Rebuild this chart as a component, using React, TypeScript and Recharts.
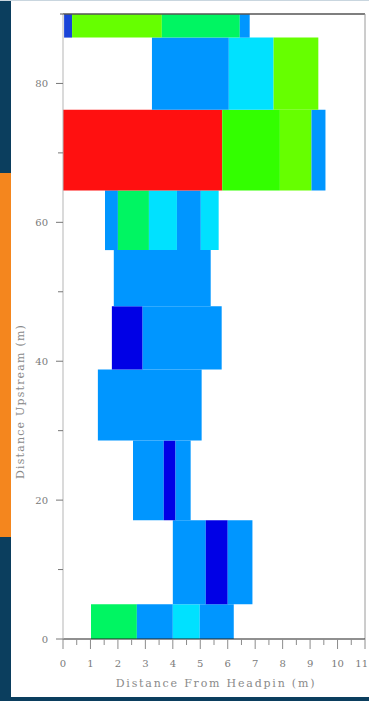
import React from 'react';
import { ComposedChart, XAxis, YAxis, ReferenceArea, ReferenceLine, Label } from 'recharts';

// Colour classes used by the cells
const C_DARK = '#0000e6';
const C_BLUE = '#0096ff';
const C_CYAN = '#00e1ff';
const C_SPRING = '#00f562';
const C_GREEN = '#33ff00';
const C_LIME = '#66ff00';
const C_RED = '#ff1010';
const C_MID = '#1a44d8';

// Row bands (Distance Upstream, m)
const rowLow = [0, 5, 17.1, 28.6, 38.8, 47.9, 56, 64.6, 76.2, 86.6];
const rowHigh = [5, 17.1, 28.6, 38.8, 47.9, 56, 64.6, 76.2, 86.6, 90];

// Cell edges along Distance From Headpin (m) for each row
const rowEdges: number[][] = [
  [1.02, 2.69, 4.0, 4.98, 6.22],
  [4.0, 5.2, 6.0, 6.9],
  [2.55, 3.67, 4.1, 4.65],
  [1.27, 5.05],
  [1.78, 2.9, 5.78],
  [1.85, 5.38],
  [1.53, 2.0, 3.13, 4.15, 5.02, 5.67],
  [0, 5.8, 7.9, 9.05, 9.56],
  [3.24, 6.04, 7.67, 9.3],
  [0.04, 0.33, 3.6, 6.44, 6.8],
];

// Cell colours for each row
const rowColors: string[][] = [
  [C_SPRING, C_BLUE, C_CYAN, C_BLUE],
  [C_BLUE, C_DARK, C_BLUE],
  [C_BLUE, C_DARK, C_BLUE],
  [C_BLUE],
  [C_DARK, C_BLUE],
  [C_BLUE],
  [C_BLUE, C_SPRING, C_CYAN, C_BLUE, C_CYAN],
  [C_RED, C_GREEN, C_LIME, C_BLUE],
  [C_BLUE, C_CYAN, C_LIME],
  [C_MID, C_LIME, C_SPRING, C_BLUE],
];

const xTicks = [0, 0.5, 1, 1.5, 2, 2.5, 3, 3.5, 4, 4.5, 5, 5.5, 6, 6.5, 7, 7.5, 8, 8.5, 9, 9.5, 10, 10.5, 11];
const yTicks = [0, 10, 20, 30, 40, 50, 60, 70, 80, 90];
const yLabelled = [0, 20, 40, 60, 80];

const FONT = '"DejaVu Serif", "Liberation Serif", serif';

const XTick = (props: any) => {
  const { x, y, payload } = props;
  const v = payload.value as number;
  const major = Math.abs(v - Math.round(v)) < 1e-6;
  const last = v === 11;
  return (
    <g>
      <line x1={x} x2={x} y1={y} y2={y + (major ? 10 : 6)} stroke="#8c8c8c" strokeWidth={1} />
      {major && (
        <text
          x={last ? x + 3 : x}
          y={y + 28}
          textAnchor={last ? 'end' : 'middle'}
          fontSize={10}
          fill="#7a7a7a"
          fontFamily={FONT}
        >
          {v}
        </text>
      )}
    </g>
  );
};

const YTick = (props: any) => {
  const { x, y, payload } = props;
  const v = payload.value as number;
  const labelled = yLabelled.includes(v);
  const len = v === 90 ? 3 : labelled ? 7 : 5;
  return (
    <g>
      <line x1={x - len} x2={x} y1={y} y2={y} stroke={v === 90 ? '#555' : '#777'} strokeWidth={1} />
      {labelled && (
        <text x={x - 15} y={y} dy={3.5} textAnchor="end" fontSize={10} fill="#7a7a7a" fontFamily={FONT}>
          {v}
        </text>
      )}
    </g>
  );
};

const YTitle = (props: any) => {
  const vb = props.viewBox || {};
  const cx = vb.x - 3;
  const cy = vb.y + vb.height * 0.62;
  return (
    <text
      x={cx}
      y={cy}
      transform={`rotate(-90, ${cx}, ${cy})`}
      textAnchor="middle"
      dominantBaseline="central"
      fontSize={11}
      letterSpacing={1.2}
      fill="#8a8a8a"
      fontFamily={FONT}
    >
      Distance Upstream (m)
    </text>
  );
};

const XTitle = (props: any) => {
  const vb = props.viewBox || {};
  const cx = vb.x + vb.width / 2 + 2;
  const cy = vb.y + 48;
  return (
    <text x={cx} y={cy} textAnchor="middle" fontSize={11} letterSpacing={1.8} fill="#8a8a8a" fontFamily={FONT}>
      Distance From Headpin (m)
    </text>
  );
};

export default function App() {
  const cells: React.ReactNode[] = [];
  rowEdges.forEach((edges, r) => {
    for (let i = 0; i < edges.length - 1; i++) {
      cells.push(
        <ReferenceArea
          key={`c-${r}-${i}`}
          x1={edges[i]}
          x2={edges[i + 1]}
          y1={rowLow[r]}
          y2={rowHigh[r]}
          fill={rowColors[r][i]}
          fillOpacity={1}
          stroke="none"
          ifOverflow="extendDomain"
        />
      );
    }
  });

  return (
    <div style={{ position: 'absolute', left: 0, top: 0, width: 369, height: 701, background: '#ffffff', overflow: 'hidden' }}>
      <div style={{ position: 'absolute', left: 0, top: 0, width: 11, height: 701, background: '#0b3e5e' }} />
      <div style={{ position: 'absolute', left: 0, top: 173, width: 11, height: 364, background: '#f4861e' }} />
      <div style={{ position: 'absolute', left: 0, top: 697, width: 369, height: 4, background: '#0b3e5e' }} />
      <div style={{ position: 'absolute', left: 0, top: 0, width: 369, height: 1, background: '#c9d6df' }} />
      <div style={{ position: 'absolute', left: 0, top: 0 }}>
        <ComposedChart width={369} height={701} margin={{ top: 14, right: 4, bottom: 12, left: 23 }}>
          <XAxis
            type="number"
            dataKey="x"
            domain={[0, 11]}
            ticks={xTicks}
            interval={0}
            tickSize={0}
            tickMargin={0}
            tickLine={false}
            tick={<XTick />}
            axisLine={{ stroke: '#222', strokeWidth: 1.2 }}
            height={50}
            allowDataOverflow
          >
            <Label content={<XTitle />} />
          </XAxis>
          <YAxis
            type="number"
            dataKey="y"
            domain={[0, 90]}
            ticks={yTicks}
            interval={0}
            tickSize={0}
            tickMargin={0}
            tickLine={false}
            tick={<YTick />}
            axisLine={{ stroke: '#b5b5b5', strokeWidth: 1 }}
            width={40}
            allowDataOverflow
          >
            <Label content={<YTitle />} />
          </YAxis>
          {cells}
          <ReferenceLine y={90} stroke="#555" strokeWidth={1.5} ifOverflow="extendDomain" />
          <ReferenceLine x={11} stroke="#9a9a9a" strokeWidth={1} ifOverflow="extendDomain" />
        </ComposedChart>
      </div>
    </div>
  );
}
